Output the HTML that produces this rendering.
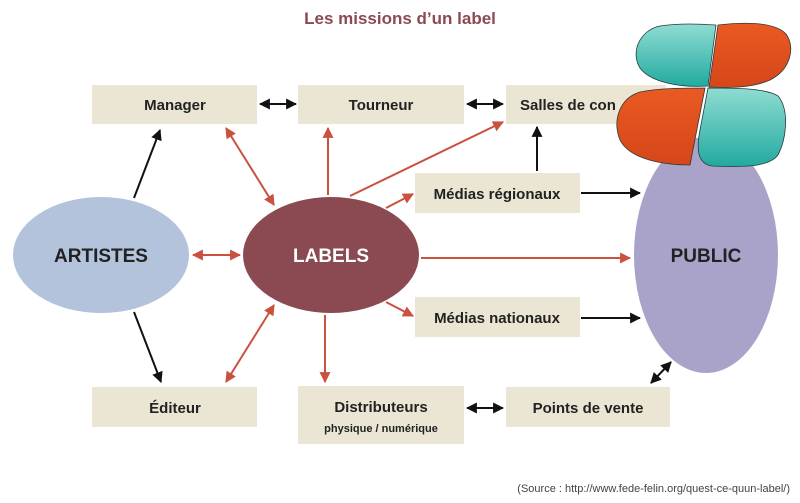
<!DOCTYPE html>
<html><head><meta charset="utf-8"><style>
body{margin:0;background:#fff;width:800px;height:498px;overflow:hidden}
svg text{font-family:"Liberation Sans",sans-serif;font-weight:bold}
</style></head><body>
<svg width="800" height="498" viewBox="0 0 800 498">
<defs>
<marker id="r" viewBox="0 0 10 10" refX="9" refY="5" markerWidth="5.5" markerHeight="5.5" orient="auto-start-reverse"><path d="M0,0 L10,5 L0,10 z" fill="#c9513e"/></marker>
<marker id="k" viewBox="0 0 10 10" refX="9" refY="5" markerWidth="5.5" markerHeight="5.5" orient="auto-start-reverse"><path d="M0,0 L10,5 L0,10 z" fill="#111"/></marker>
<linearGradient id="t" x1="0" y1="0" x2="0" y2="1"><stop offset="0" stop-color="#8fdcd2"/><stop offset="1" stop-color="#22aaa0"/></linearGradient>
<linearGradient id="o" x1="0" y1="0" x2="0" y2="1"><stop offset="0" stop-color="#ea5a22"/><stop offset="1" stop-color="#d5461a"/></linearGradient>
</defs>
<text x="400" y="24" text-anchor="middle" font-size="17" fill="#8b4a52">Les missions d’un label</text>
<g fill="#ebe6d3">
<rect x="92" y="85" width="165" height="39"/><rect x="298" y="85" width="166" height="39"/><rect x="506" y="85" width="160" height="39"/>
<rect x="415" y="173" width="165" height="40"/><rect x="415" y="297" width="165" height="40"/>
<rect x="92" y="387" width="165" height="40"/><rect x="298" y="386" width="166" height="58"/><rect x="506" y="387" width="164" height="40"/>
</g>
<g font-size="15" fill="#222" text-anchor="middle">
<text x="175" y="110">Manager</text><text x="381" y="110">Tourneur</text><text x="520" y="110" text-anchor="start">Salles de con</text>
<text x="497" y="199">Médias régionaux</text><text x="497" y="323">Médias nationaux</text>
<text x="175" y="413">Éditeur</text><text x="381" y="412">Distributeurs</text><text x="381" y="432" font-size="11">physique / numérique</text><text x="588" y="413">Points de vente</text>
</g>
<ellipse cx="101" cy="255" rx="88" ry="58" fill="#b3c3dc"/>
<ellipse cx="331" cy="255" rx="88" ry="58" fill="#8b4a52"/>
<ellipse cx="706" cy="255" rx="72" ry="118" fill="#a9a3c9"/>
<text x="101" y="262" text-anchor="middle" font-size="19" fill="#222">ARTISTES</text>
<text x="331" y="262" text-anchor="middle" font-size="19" fill="#fff">LABELS</text>
<text x="706" y="262" text-anchor="middle" font-size="19" fill="#222">PUBLIC</text>
<g stroke="#c9513e" stroke-width="2" fill="none">
<line x1="193" y1="255" x2="240" y2="255" marker-start="url(#r)" marker-end="url(#r)"/>
<line x1="226" y1="128" x2="274" y2="205" marker-start="url(#r)" marker-end="url(#r)"/>
<line x1="226" y1="382" x2="274" y2="305" marker-start="url(#r)" marker-end="url(#r)"/>
<line x1="328" y1="195" x2="328" y2="128" marker-end="url(#r)"/>
<line x1="350" y1="196" x2="503" y2="122" marker-end="url(#r)"/>
<line x1="386" y1="208" x2="413" y2="194" marker-end="url(#r)"/>
<line x1="386" y1="302" x2="413" y2="316" marker-end="url(#r)"/>
<line x1="421" y1="258" x2="630" y2="258" marker-end="url(#r)"/>
<line x1="325" y1="315" x2="325" y2="382" marker-end="url(#r)"/>
</g>
<g stroke="#111" stroke-width="2" fill="none">
<line x1="134" y1="198" x2="160" y2="130" marker-end="url(#k)"/>
<line x1="134" y1="312" x2="161" y2="382" marker-end="url(#k)"/>
<line x1="260" y1="104" x2="296" y2="104" marker-start="url(#k)" marker-end="url(#k)"/>
<line x1="467" y1="104" x2="503" y2="104" marker-start="url(#k)" marker-end="url(#k)"/>
<line x1="537" y1="171" x2="537" y2="127" marker-end="url(#k)"/>
<line x1="581" y1="193" x2="640" y2="193" marker-end="url(#k)"/>
<line x1="581" y1="318" x2="640" y2="318" marker-end="url(#k)"/>
<line x1="467" y1="408" x2="503" y2="408" marker-start="url(#k)" marker-end="url(#k)"/>
<line x1="651" y1="383" x2="671" y2="362" marker-start="url(#k)" marker-end="url(#k)"/>
</g>
<g stroke="#2a3a3a" stroke-width="0.8">
<path d="M716,25 L708,86 C680,88 650,82 640,68 C630,52 640,30 660,26 C680,23 700,24 716,25 Z" fill="url(#t)"/>
<path d="M718,25 C745,22 775,22 786,34 C796,48 790,70 770,80 C752,88 730,88 709,87 Z" fill="url(#o)"/>
<path d="M705,88 L690,165 C665,165 630,160 620,140 C612,120 620,98 640,92 C660,88 685,88 705,88 Z" fill="url(#o)"/>
<path d="M708,88 C735,88 765,88 778,96 C790,110 786,140 778,155 C768,168 740,167 712,166 C698,164 696,150 700,130 Z" fill="url(#t)"/>
</g>
<text x="790" y="492" text-anchor="end" font-size="11" fill="#444" style="font-weight:normal">(Source : http://www.fede-felin.org/quest-ce-quun-label/)</text>
</svg>
</body></html>
